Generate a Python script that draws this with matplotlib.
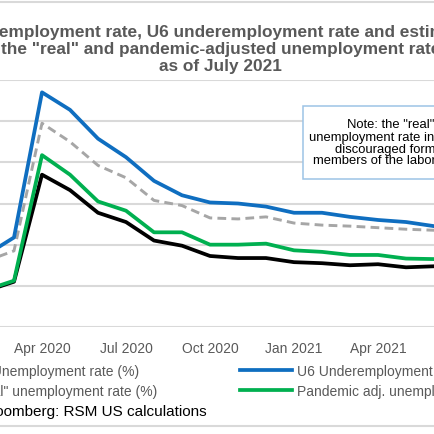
import matplotlib
matplotlib.use("Agg")
import matplotlib.pyplot as plt
from matplotlib.lines import Line2D
from matplotlib.patches import Rectangle

plt.rcParams['font.family'] = ['Liberation Sans', 'DejaVu Sans']

# Months indexed from Jan 2020 = 0
months = list(range(1, 19))  # Feb 2020 .. Jul 2021
u3 = [3.5, 4.4, 14.8, 13.3, 11.1, 10.2, 8.4, 7.9, 6.9, 6.7, 6.7, 6.3, 6.2, 6.0, 6.1, 5.8, 5.9, 5.4]
u6 = [7.0, 8.7, 22.8, 21.1, 18.3, 16.5, 14.2, 12.8, 12.1, 12.0, 11.7, 11.1, 11.1, 10.7, 10.4, 10.2, 9.8, 9.2]
real = [6.4, 7.4, 19.8, 18.0, 15.7, 14.5, 12.3, 11.8, 10.6, 10.5, 10.7, 10.1, 9.9, 9.8, 9.65, 9.5, 9.4, 9.0]
pandemic = [3.6, 4.5, 16.7, 14.8, 12.2, 11.3, 9.2, 9.2, 8.0, 8.0, 8.1, 7.45, 7.3, 7.0, 7.0, 6.65, 6.6, 6.2]

tick_pos = [3, 6, 9, 12, 15]
tick_labels = ["Apr 2020", "Jul 2020", "Oct 2020", "Jan 2021", "Apr 2021"]
y_ticks = [0, 4, 8, 12, 16, 20, 24]

title_lines = ["U3 unemployment rate, U6 underemployment rate and estimates of",
               "the \"real\" and pandemic-adjusted unemployment rates",
               "as of July 2021"]
legend_labels = ["U3 Unemployment rate (%)", "\"Real\" unemployment rate (%)",
                 "U6 Underemployment rate (%)", "Pandemic adj. unemployment rate (%)"]
note = "Note: the \"real\"\nunemployment rate includes\ndiscouraged former\nmembers of the labor force"
source = "Source: Bloomberg: RSM US calculations"

W = H = 435.0
def fx(px): return px / W
def fy(py): return 1 - py / H

fig = plt.figure(figsize=(4.35, 4.35), dpi=100)
fig.patch.set_facecolor("white")

# axes spanning full width; month m -> px = 42 + (m-3)*28
ax = fig.add_axes([0, fy(328), 1, fy(81) - fy(328)])
ax.set_xlim(3 - 42 / 28, 3 + (W - 42) / 28)
ax.set_ylim(0, 24)
ax.set_yticks(y_ticks)
ax.yaxis.grid(True, color="#D9D9D9", lw=1.5)
ax.set_axisbelow(True)
for s in ax.spines.values():
    s.set_visible(False)
ax.tick_params(length=0, labelsize=10, labelcolor="#595959", pad=10)
ax.tick_params(axis="y", labelleft=False)
ax.set_xticks(tick_pos)
ax.set_xticklabels(tick_labels)

l_u3, = ax.plot(months, u3, color="#000000", lw=2.7)
l_real, = ax.plot(months, real, color="#A6A6A6", lw=2.1, linestyle=(0, (3.0, 1.8)))
l_u6, = ax.plot(months, u6, color="#0F6EC0", lw=2.7)
l_pan, = ax.plot(months, pandemic, color="#00B050", lw=2.7)

# title
for t, xx, yy in zip(title_lines, (226, 225.5, 220), (32, 49.5, 67)):
    fig.text(fx(xx), fy(yy), t, ha="center", va="center", fontsize=12.45,
             fontweight="bold", color="#595959")

# chart border lines
for yy in (3, 427):
    fig.add_artist(Line2D([0, 1], [fy(yy), fy(yy)], color="#D9D9D9", lw=1.5))

# note box
fig.add_artist(Rectangle((fx(303), fy(180)), fx(477) - fx(303), fy(107) - fy(180),
                         facecolor="white", edgecolor="#9DC3E6", lw=1.1))
fig.text(fx(391), fy(143.5), note, ha="center", va="center", fontsize=9.4,
         color="#000000", linespacing=1.0)

# legend
leg = fig.legend([l_u3, l_real, l_u6, l_pan], legend_labels, ncol=2,
                 loc="center", bbox_to_anchor=(fx(223.5), fy(382)),
                 frameon=False, fontsize=10, handlelength=3.75, handletextpad=0.36,
                 columnspacing=5.94, labelspacing=0.45, borderpad=0)
for t in leg.get_texts():
    t.set_color("#595959")

fig.text(fx(207), fy(412), source, ha="right", va="center", fontsize=11, color="#000000")

fig.savefig("out.png", dpi=100)
